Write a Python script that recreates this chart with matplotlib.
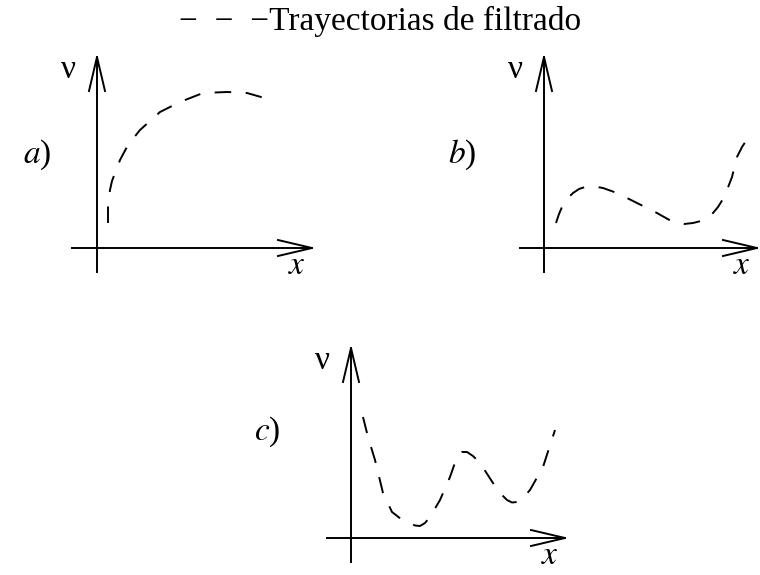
import numpy as np
import matplotlib.pyplot as plt

plt.rcParams['font.family'] = ['Liberation Serif', 'DejaVu Serif']
plt.rcParams['mathtext.fontset'] = 'stix'

# trayectorias: x hacia la derecha, nu hacia arriba, medidas desde el origen de cada panel
a_x = [11, 11, 12, 13, 15, 18, 23, 31, 43, 63, 83, 106, 130, 150, 171]
a_v = [25, 41, 50, 58, 67, 75, 88, 103, 118, 136, 146, 155, 156, 155, 149]

b_x = [12, 15, 18, 23, 29, 35, 41, 50, 59, 73, 93, 113, 129, 140, 149, 157, 163, 169, 174, 179, 183, 188, 193, 198, 204]
b_v = [25, 34, 41, 49, 55, 59, 61, 61.5, 60, 55, 45, 35, 26, 24, 25, 27, 30, 35, 41, 49, 58, 71, 91, 101, 110]

c_x = [12, 17, 24, 32, 41, 50, 59, 64, 69, 74, 79, 89, 99, 106, 111, 116, 122, 129, 142, 150, 156, 161, 166, 172, 179, 192, 204]
c_v = [121, 101, 78, 45, 26, 19, 15, 12.5, 12, 15, 21, 38, 61, 81, 86, 86, 82, 75, 55, 44, 38, 35.5, 36, 40, 48, 71, 108]

paneles = [
    # origen, extremos de los ejes, etiqueta
    dict(o=(97, 248), xl=72, xr=312, yt=57, yb=272, x=a_x, v=a_v, lab='a', lab_pos=(37, 155)),
    dict(o=(544, 248), xl=520, xr=757, yt=57, yb=272, x=b_x, v=b_v, lab='b', lab_pos=(462, 155)),
    dict(o=(351, 538), xl=327, xr=565, yt=348, yb=562, x=c_x, v=c_v, lab='c', lab_pos=(267, 432)),
]

fig = plt.figure(figsize=(7.6, 5.75), dpi=100)
ax = fig.add_axes([0, 0, 1, 1])
ax.set_xlim(0, 760)
ax.set_ylim(575, 0)
ax.axis('off')

lw = 1.4
head_len, head_w = 34, 8

for p in paneles:
    ox, oy = p['o']
    # eje x con flecha abierta
    ax.plot([p['xl'], p['xr']], [oy, oy], color='black', lw=lw)
    ax.plot([p['xr'] - head_len, p['xr'], p['xr'] - head_len],
            [oy - head_w, oy, oy + head_w], color='black', lw=lw)
    # eje nu
    ax.plot([ox, ox], [p['yb'], p['yt']], color='black', lw=lw)
    ax.plot([ox - head_w, ox, ox + head_w],
            [p['yt'] + head_len, p['yt'], p['yt'] + head_len], color='black', lw=lw)

    xs = ox + np.array(p['x'])
    ys = oy - np.array(p['v'])
    ax.plot(xs, ys, color='black', lw=lw, dashes=(8.5, 7.5))

    ax.text(ox - 29, p['yt'] + 13, 'ν', fontsize=24, ha='center', va='center')
    ax.text(p['xr'] - 15, oy + 18, '$x$', fontsize=24, ha='center', va='center')
    ax.text(p['lab_pos'][0], p['lab_pos'][1], '$' + p['lab'] + '$)', fontsize=24,
            ha='center', va='center')

ax.text(380, 21, '−\u2002−\u2002−Trayectorias de filtrado', fontsize=24,
        ha='center', va='center')

fig.savefig('out.png', dpi=100)
